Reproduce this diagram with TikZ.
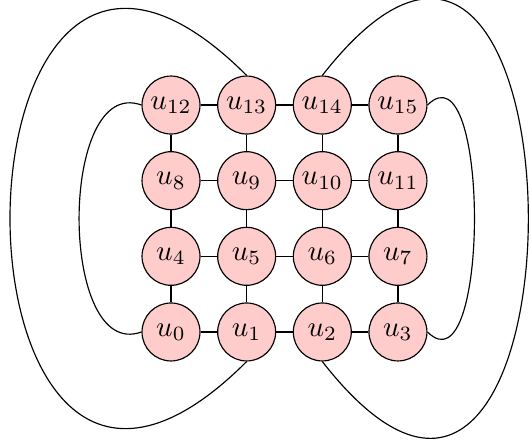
\documentclass[tikz,border=0pt]{standalone}
\usepackage{amsmath,amssymb}
\usepackage{xcolor}
\usepackage{tikz}
\usetikzlibrary{positioning}

\begin{document}
\begin{tikzpicture}[
  vtx/.style={circle, draw, fill=red!20, minimum size=20pt, inner sep=1pt},
  node distance=26.1pt, on grid
]
\useasboundingbox (-59pt,-37.26pt) rectangle (124.2pt,114.54pt);

\node[vtx] (u0) {$u_{0}$};
\node[vtx, right=of u0] (u1) {$u_{1}$};
\node[vtx, right=of u1] (u2) {$u_{2}$};
\node[vtx, right=of u2] (u3) {$u_{3}$};

\node[vtx, above=of u0] (u4) {$u_{4}$};
\node[vtx, right=of u4] (u5) {$u_{5}$};
\node[vtx, right=of u5] (u6) {$u_{6}$};
\node[vtx, right=of u6] (u7) {$u_{7}$};

\node[vtx, above=of u4] (u8) {$u_{8}$};
\node[vtx, right=of u8] (u9) {$u_{9}$};
\node[vtx, right=of u9] (u10) {$u_{10}$};
\node[vtx, right=of u10] (u11) {$u_{11}$};

\node[vtx, above=of u8] (u12) {$u_{12}$};
\node[vtx, right=of u12] (u13) {$u_{13}$};
\node[vtx, right=of u13] (u14) {$u_{14}$};
\node[vtx, right=of u14] (u15) {$u_{15}$};

% rows
\draw (u0)--(u1) (u1)--(u2) (u2)--(u3);
\draw (u4)--(u5) (u5)--(u6) (u6)--(u7);
\draw (u8)--(u9) (u9)--(u10) (u10)--(u11);
\draw (u12)--(u13) (u13)--(u14) (u14)--(u15);
% columns
\draw (u0)--(u4) (u4)--(u8) (u8)--(u12);
\draw (u1)--(u5) (u5)--(u9) (u9)--(u13);
\draw (u2)--(u6) (u6)--(u10) (u10)--(u14);
\draw (u3)--(u7) (u7)--(u11) (u11)--(u15);

% wrap-around
\draw (u12.west) to[out=160,in=200] (u0.west);
\draw (u15.east) to[out=45,in=-45] (u3.east);
\draw (u13.north) to[out=135,in=225,looseness=4] (u1.south);
\draw (u14.north) to[out=52,in=-52,looseness=4] (u2.south);

\end{tikzpicture}
\end{document}
